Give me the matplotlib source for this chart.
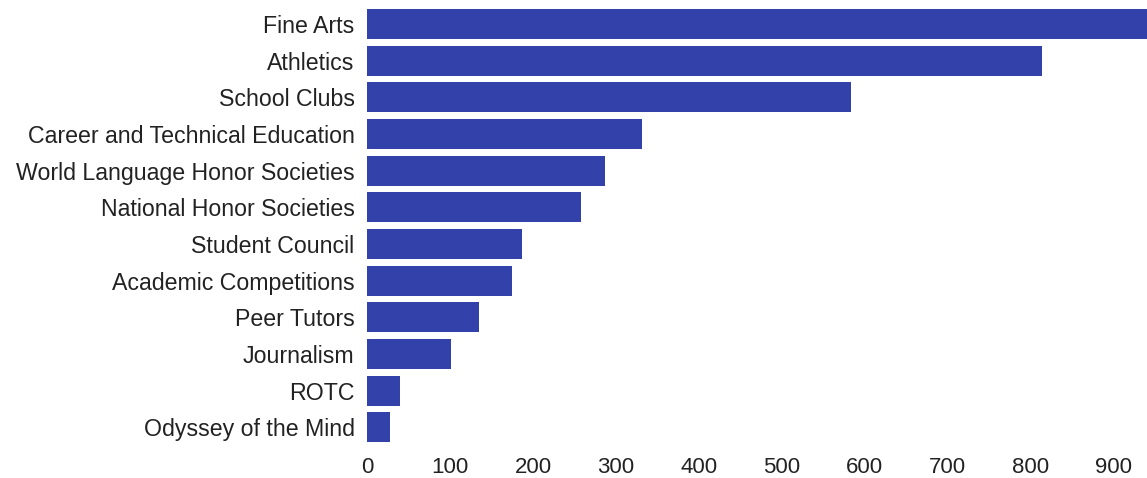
import matplotlib
matplotlib.use("Agg")
import matplotlib.pyplot as plt

categories = [
    "Fine Arts",
    "Athletics",
    "School Clubs",
    "Career and Technical Education",
    "World Language Honor Societies",
    "National Honor Societies",
    "Student Council",
    "Academic Competitions",
    "Peer Tutors",
    "Journalism",
    "ROTC",
    "Odyssey of the Mind",
]
counts = [960, 814, 583, 331, 287, 258, 187, 175, 135, 101, 40, 28]
xticks = [0, 100, 200, 300, 400, 500, 600, 700, 800, 900]

plt.rcParams["font.family"] = ["Liberation Sans", "DejaVu Sans"]

fig = plt.figure(figsize=(11.47, 4.78), dpi=100)
ax = fig.add_axes([0.32, 0.068, 0.68, 0.92])

ypos = list(range(len(categories)))
ax.barh(ypos, counts, height=0.82, color="#3342ab")
ax.set_yticks(ypos)
ax.set_yticklabels(categories, fontsize=16.7, color="#222222")
ax.set_ylim(len(categories) - 0.5, -0.5)
ax.set_xlim(0, 940)
ax.set_xticks(xticks)
ax.set_xticklabels([str(t) for t in xticks], fontsize=16, color="#222222")
ax.tick_params(length=0)
ax.tick_params(axis="y", pad=9)
ax.tick_params(axis="x", pad=8)
for s in ax.spines.values():
    s.set_visible(False)

fig.savefig("out.png", dpi=100)
